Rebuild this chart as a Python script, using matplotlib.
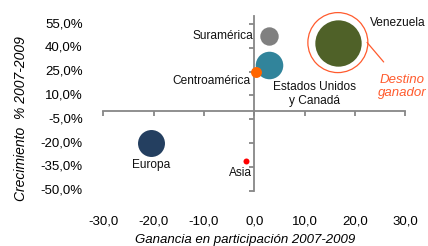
import matplotlib
matplotlib.use("Agg")
import matplotlib.pyplot as plt

plt.rcParams['font.family'] = ['Liberation Sans', 'DejaVu Sans']

# ---- data ----
regiones = ["Venezuela", "Suramérica", "Estados Unidos\ny Canadá", "Centroamérica", "Europa", "Asia"]
ganancia = [16.6, 2.95, 2.9, 0.4, -20.6, -1.6]          # x: ganancia en participación
crecimiento = [43.3, 47.2, 28.9, 24.8, -19.8, -31.1]    # y: crecimiento %
tamano = [538, 85, 190, 30, 182, 9]                     # relative bubble area
colores = ["#4F6128", "#808080", "#31849B", "#FF6600", "#243F60", "#FF0000"]

xticks = [-30, -20, -10, 0, 10, 20, 30]
yticks = [-50, -35, -20, -5, 10, 25, 40, 55]

# label placement (data coords) and alignment
lab_pos = [(23.0, 55.5, 'left'), (-0.3, 47.6, 'right'), (11.9, 10.8, 'center'),
           (-0.85, 19.3, 'right'), (-20.6, -33.6, 'center'), (-2.7, -38.9, 'center')]

fig = plt.figure(figsize=(4.28, 2.46), dpi=100)
ax = fig.add_axes([0.2414, 0.2248, 0.7056, 0.7098])
ax.set_xlim(-30, 30)
ax.set_ylim(-50, 60)

spine_c = "#878787"
for s in ['top', 'right']:
    ax.spines[s].set_visible(False)
ax.spines['left'].set_position(('data', 0))
ax.spines['bottom'].set_position(('data', 0))
for s in ['left', 'bottom']:
    ax.spines[s].set_color(spine_c)
    ax.spines[s].set_linewidth(1.3)
ax.set_xticks(xticks)
ax.set_yticks(yticks)
ax.tick_params(axis='both', which='both', color=spine_c, width=1.3, length=3.5,
               direction='out', labelleft=False, labelbottom=False)

# tick labels placed at chart edges
for v in yticks:
    ax.text(-0.068, v, f"{v:.1f}%".replace('.', ','), transform=ax.get_yaxis_transform(),
            ha='right', va='center', fontsize=9.5, color='#000000')
for v in xticks:
    ax.text(v, -0.179, f"{v:.1f}".replace('.', ','), transform=ax.get_xaxis_transform(),
            ha='center', va='center', fontsize=9.5, color='#000000')

# bubbles
scale = 2.07
for x, y, t, c in zip(ganancia, crecimiento, tamano, colores):
    ax.scatter([x], [y], s=t * scale, color=c, linewidths=0, zorder=3, clip_on=False)

# highlight ring around Venezuela
ax.scatter([ganancia[0]], [crecimiento[0]], s=1866, facecolors='none',
           edgecolors='#FF5B2E', linewidths=0.9, zorder=2, clip_on=False)
ax.annotate('', xy=(22.4, 43.4), xytext=(25.7, 31.1),
            arrowprops=dict(arrowstyle='-', color='#FF5B2E', lw=0.9,
                            shrinkA=0, shrinkB=0), annotation_clip=False)
ax.text(29.3, 15.6, "Destino\nganador", color='#FF5B2E', fontsize=9.5, style='italic',
        ha='center', va='center', linespacing=1.15, clip_on=False)

for name, (lx, ly, ha) in zip(regiones, lab_pos):
    ax.text(lx, ly, name, ha=ha, va='center', fontsize=8.6, color='#111111',
            linespacing=1.2, clip_on=False)

fig.text(0.049, 0.52, "Crecimiento  % 2007-2009", rotation=90, style='italic',
         ha='center', va='center', fontsize=10)
fig.text(0.572, 0.026, "Ganancia en participación 2007-2009", style='italic',
         ha='center', va='center', fontsize=9.5)

fig.savefig("out.png", dpi=100)
